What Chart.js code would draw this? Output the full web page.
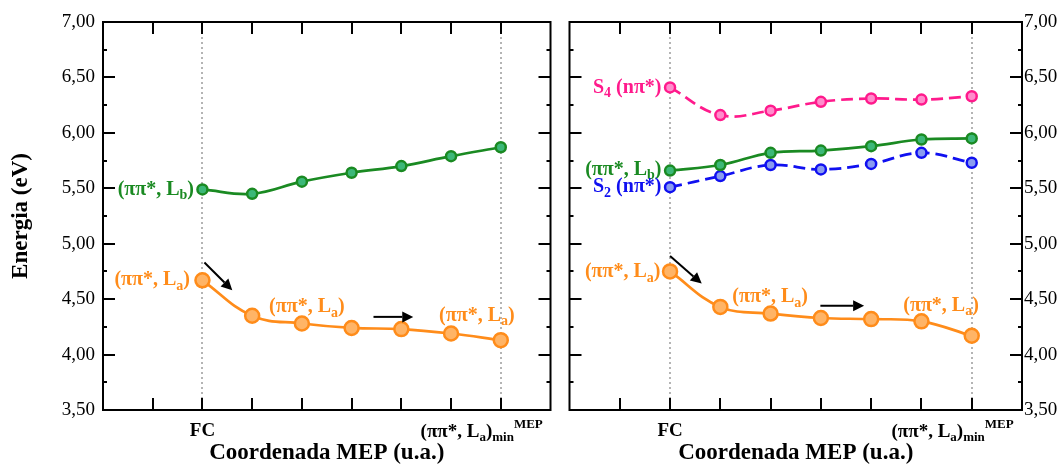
<!DOCTYPE html>
<html><head><meta charset="utf-8">
<script src="https://cdn.jsdelivr.net/npm/chart.js@4.4.1/dist/chart.umd.min.js"></script>
<style>
html,body{margin:0;padding:0;background:#fff;overflow:hidden}
#wrap{position:relative;width:1064px;height:465px;background:#fff}
canvas{position:absolute;top:0}
#c1{left:0;width:560px;height:465px}
#c2{left:560px;width:504px;height:465px}
</style></head><body>
<div id="wrap"><canvas id="c1" width="560" height="465"></canvas><canvas id="c2" width="504" height="465"></canvas></div>
<script>
// ---- data ----
const xSteps = [0, 1, 2, 3, 4, 5, 6];
const yMin = 3.5, yMax = 7.0, yStep = 0.5;
const xTickLabels = ['FC', '(ππ*, L_{a})_{min}^{MEP}'];
const xTickValues = [0, 6];
const xTitle = 'Coordenada MEP (u.a.)';
const yTitle = 'Energia (eV)';
// left panel
const leftLb = [5.49, 5.45, 5.56, 5.64, 5.70, 5.79, 5.87];
const leftLa = [4.67, 4.35, 4.28, 4.24, 4.23, 4.19, 4.13];
// right panel
const rightS4 = [6.41, 6.16, 6.20, 6.28, 6.31, 6.30, 6.33];
const rightLb = [5.66, 5.71, 5.82, 5.84, 5.88, 5.94, 5.95];
const rightS2 = [5.51, 5.61, 5.71, 5.67, 5.72, 5.82, 5.73];
const rightLa = [4.75, 4.43, 4.37, 4.33, 4.32, 4.30, 4.17];

// ---- styles ----
const FAM = '"Liberation Serif","Times New Roman",serif';
const C = {
  green: '#1a8a22', greenFill: '#3cb878',
  orange: '#ff8c1a', orangeFill: '#ffb466',
  pink: '#ff1a8c', pinkFill: '#ff8ccc',
  blue: '#1010f0', blueFill: '#8a9cf0'
};
const ANN = 20;

function pts(arr){ return arr.map((v,i)=>({x:xSteps[i], y:v})); }
function ds(arr, line, fill, r, dash){
  return {data: pts(arr), borderColor: line, backgroundColor: fill, borderWidth: 2.7,
    pointRadius: r, pointHoverRadius: r, pointBackgroundColor: fill, pointBorderColor: line,
    pointBorderWidth: 2.5, tension: 0.4, borderDash: dash || [], fill: false};
}

function parseRich(s){
  const out=[]; let i=0, buf='';
  while(i<s.length){
    const c=s[i];
    if((c==='_'||c==='^') && s[i+1]==='{'){
      if(buf){out.push({t:buf,m:'n'});buf='';}
      const j=s.indexOf('}',i);
      out.push({t:s.slice(i+2,j), m:c==='_'?'sub':'sup'}); i=j+1;
    } else { buf+=c; i++; }
  }
  if(buf) out.push({t:buf,m:'n'});
  return out;
}
function drawRich(ctx, s, x, y, size, color, align){
  const segs=parseRich(s);
  const small=Math.round(size*0.68);
  const fonts={n:`bold ${size}px ${FAM}`, sub:`bold ${small}px ${FAM}`, sup:`bold ${small}px ${FAM}`};
  let w=0; for(const g of segs){ctx.font=fonts[g.m]; g.w=ctx.measureText(g.t).width; w+=g.w;}
  let cx = align==='right'? x-w : align==='center'? x-w/2 : x;
  ctx.fillStyle=color; ctx.textBaseline='middle'; ctx.textAlign='left';
  for(const g of segs){
    ctx.font=fonts[g.m];
    const dy = g.m==='sub'? size*0.3 : g.m==='sup'? -size*0.4 : 0;
    ctx.fillText(g.t,cx,y+dy); cx+=g.w;
  }
}
function arrow(ctx,x1,y1,x2,y2){
  const ang=Math.atan2(y2-y1,x2-x1), L=11, W=5.5;
  const bx=x2-L*Math.cos(ang), by=y2-L*Math.sin(ang);
  ctx.save(); ctx.strokeStyle='#000'; ctx.fillStyle='#000'; ctx.lineWidth=2;
  ctx.beginPath(); ctx.moveTo(x1,y1); ctx.lineTo(bx,by); ctx.stroke();
  ctx.beginPath(); ctx.moveTo(x2,y2);
  ctx.lineTo(bx+W*Math.sin(ang), by-W*Math.cos(ang));
  ctx.lineTo(bx-W*Math.sin(ang), by+W*Math.cos(ang)); ctx.closePath(); ctx.fill();
  ctx.restore();
}

const decor = {
  id: 'decor',
  beforeDatasetsDraw(chart, args, opts){
    const {ctx, chartArea:a, scales:{x}} = chart;
    ctx.save(); ctx.strokeStyle='#b4b4b4'; ctx.lineWidth=2; ctx.setLineDash([2,3]);
    for(const v of xTickValues){
      const px=Math.round(x.getPixelForValue(v));
      ctx.beginPath(); ctx.moveTo(px,a.top); ctx.lineTo(px,a.bottom); ctx.stroke();
    }
    ctx.restore();
  },
  afterDatasetsDraw(chart, args, opts){
    const {ctx, chartArea:a, scales:{x,y}} = chart;
    ctx.save(); ctx.strokeStyle='#000'; ctx.lineWidth=2;
    ctx.beginPath();
    for(let v=-1; v<=6; v++){
      const px=Math.round(x.getPixelForValue(v));
      ctx.moveTo(px,a.bottom); ctx.lineTo(px,a.bottom-12);
      ctx.moveTo(px,a.top); ctx.lineTo(px,a.top+12);
    }
    for(let v=yMin; v<=yMax+1e-9; v+=0.25){
      const py=Math.round(y.getPixelForValue(v));
      const major=Math.abs(v/0.5-Math.round(v/0.5))<1e-6;
      const L=major?12:4;
      ctx.moveTo(a.left,py); ctx.lineTo(a.left+L,py);
      ctx.moveTo(a.right,py); ctx.lineTo(a.right-L,py);
    }
    ctx.stroke();
    ctx.strokeRect(a.left,a.top,a.right-a.left,a.bottom-a.top);
    ctx.restore();
  },
  afterDraw(chart, args, opts){
    const {ctx, chartArea:a, scales:{x,y}} = chart;
    ctx.save();
    drawRich(ctx, xTickLabels[0], x.getPixelForValue(xTickValues[0]), 431, 19, '#000', 'center');
    drawRich(ctx, xTickLabels[1], x.getPixelForValue(xTickValues[1])+42, 432, 19, '#000', 'right');
    ctx.font=`bold 23px ${FAM}`; ctx.fillStyle='#000'; ctx.textAlign='center'; ctx.textBaseline='middle';
    ctx.fillText(xTitle,(a.left+a.right)/2,453);
    if(opts.yTitle){
      ctx.save(); ctx.translate(21,(a.top+a.bottom)/2); ctx.rotate(-Math.PI/2);
      ctx.fillText(yTitle,0,0); ctx.restore();
    }
    for(const t of opts.labels){
      drawRich(ctx, t.text, x.getPixelForValue(t.x), y.getPixelForValue(t.y), ANN, t.color, t.align);
    }
    for(const r of opts.arrows){
      arrow(ctx, x.getPixelForValue(r.x1), y.getPixelForValue(r.y1), x.getPixelForValue(r.x2), y.getPixelForValue(r.y2));
    }
    ctx.restore();
  }
};

function makeChart(id, datasets, side, yWidth, tickPad, pad, labels, arrows, showYTitle){
  return new Chart(document.getElementById(id), {
    type: 'line',
    data: {datasets},
    plugins: [decor],
    options: {
      responsive: false, animation: false, devicePixelRatio: 1,
      layout: {padding: pad},
      plugins: {legend:{display:false}, tooltip:{enabled:false}, title:{display:false},
        decor: {labels, arrows, yTitle: showYTitle}},
      scales: {
        x: {type:'linear', min:-2, max:7, position:'bottom',
          ticks:{display:false, stepSize:1}, grid:{display:false, drawTicks:false}, border:{display:false},
          afterFit(s){ s.height = 55; }},
        y: {type:'linear', min:yMin, max:yMax, position:side,
          ticks:{stepSize:yStep, padding:tickPad, color:'#000', font:{family:FAM, size:19},
            callback:v=>v.toFixed(2).replace('.',',')},
          grid:{display:false, drawTicks:false}, border:{display:false},
          afterFit(s){ s.width = yWidth; }}
      }
    }
  });
}

makeChart('c1', [
  ds(leftLb, C.green, C.greenFill, 5),
  ds(leftLa, C.orange, C.orangeFill, 7)
], 'left', 103, 8, {left:0, right:7, top:22, bottom:0}, [
  {text:'(ππ*, L_{b})', x:-0.17, y:5.49, align:'right', color:C.green},
  {text:'(ππ*, L_{a})', x:-0.25, y:4.67, align:'right', color:C.orange},
  {text:'(ππ*, L_{a})', x:2.1, y:4.43, align:'center', color:C.orange},
  {text:'(ππ*, L_{a})', x:5.52, y:4.35, align:'center', color:C.orange}
], [
  {x1:0.04, y1:4.83, x2:0.6, y2:4.58},
  {x1:3.44, y1:4.34, x2:4.24, y2:4.34}
], true);

makeChart('c2', [
  ds(rightS4, C.pink, C.pinkFill, 5, [12,6]),
  ds(rightLb, C.green, C.greenFill, 5),
  ds(rightS2, C.blue, C.blueFill, 5, [12,6]),
  ds(rightLa, C.orange, C.orangeFill, 7)
], 'right', 42, 2, {left:5, right:0, top:22, bottom:0}, [
  {text:'S_{4} (nπ*)', x:-0.17, y:6.41, align:'right', color:C.pink},
  {text:'(ππ*, L_{b})', x:-0.17, y:5.67, align:'right', color:C.green},
  {text:'S_{2} (nπ*)', x:-0.17, y:5.51, align:'right', color:C.blue},
  {text:'(ππ*, L_{a})', x:-0.19, y:4.745, align:'right', color:C.orange},
  {text:'(ππ*, L_{a})', x:1.99, y:4.52, align:'center', color:C.orange},
  {text:'(ππ*, L_{a})', x:5.39, y:4.44, align:'center', color:C.orange}
], [
  {x1:0.0, y1:4.89, x2:0.63, y2:4.64},
  {x1:2.99, y1:4.44, x2:3.86, y2:4.44}
], false);
</script>
</body></html>
